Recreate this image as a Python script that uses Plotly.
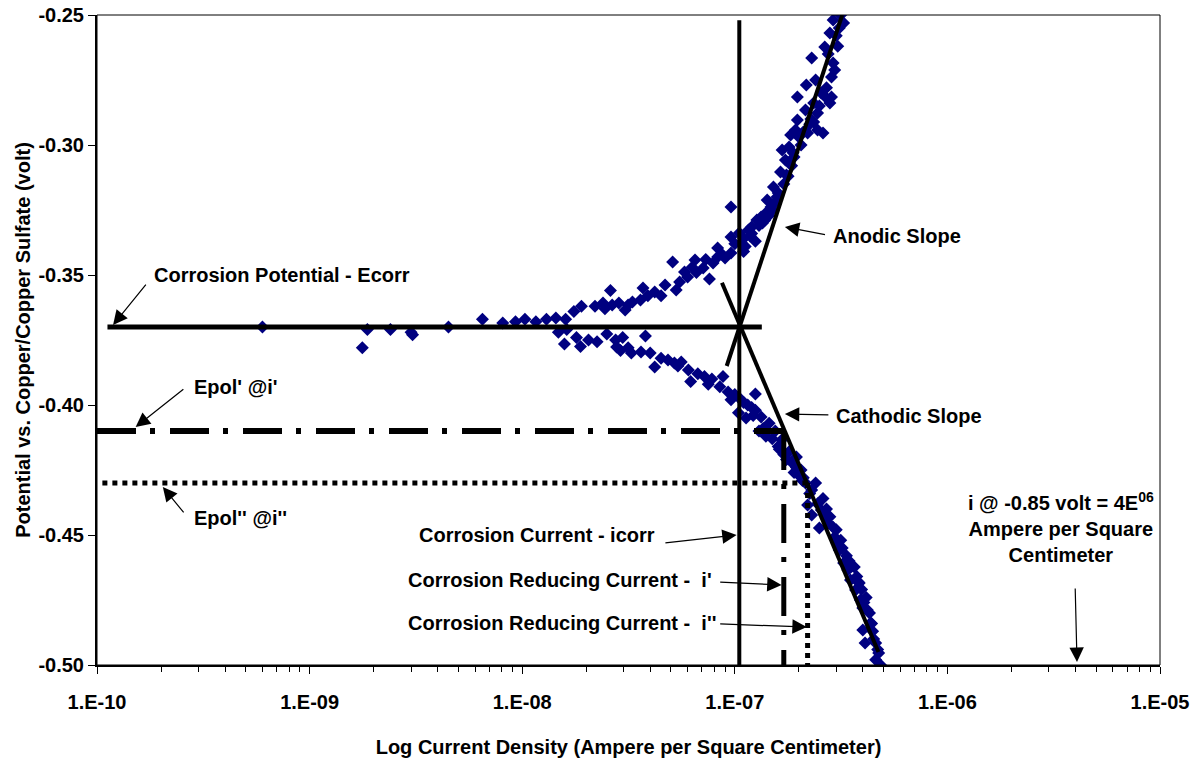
import numpy as np
import plotly.graph_objects as go

# measured polarization data (current density A/cm2, potential V vs CSE)
anodic_i = [6.0e-10, 1.77e-9, 1.87e-9, 2.4e-9, 3.0e-9, 3.05e-9, 4.5e-9, 6.5e-9, 8.1e-9, 9.3e-9,
            1.03e-8, 1.16e-8, 1.3e-8, 1.44e-8, 1.6e-8, 1.75e-8, 1.9e-8, 2.2e-8, 2.4e-8, 2.45e-8,
            2.6e-8, 2.65e-8, 2.85e-8, 3.05e-8, 3.15e-8, 3.3e-8, 3.6e-8, 3.7e-8, 3.9e-8, 4.2e-8,
            4.5e-8, 4.7e-8, 5.1e-8, 5.3e-8, 5.5e-8, 5.8e-8, 6.0e-8, 6.5e-8, 6.6e-8, 7.1e-8,
            7.6e-8, 7.9e-8, 8.3e-8, 9.0e-8, 9.6e-8, 1.1e-7, 8.3e-8, 9.6e-8, 1.05e-7, 1.07e-7,
            1.16e-7, 1.2e-7, 9.6e-8, 1.27e-7, 1.33e-7, 1.4e-7, 1.42e-7, 1.48e-7, 1.52e-7, 1.6e-7,
            1.64e-7, 1.75e-7, 1.73e-7, 1.67e-7, 1.8e-7, 1.9e-7, 1.83e-7, 1.93e-7, 2.0e-7, 1.97e-7,
            2.15e-7, 2.2e-7, 2.35e-7, 2.45e-7, 2.6e-7, 2.45e-7, 2.35e-7, 1.97e-7, 2.67e-7, 2.8e-7,
            2.85e-7, 2.17e-7, 2.4e-7, 2.85e-7, 2.95e-7, 2.9e-7, 2.3e-7, 2.65e-7, 2.8e-7, 2.9e-7,
            3.25e-7, 3.15e-7, 1.0e-7, 1.1e-7, 1.2e-7, 1.25e-7, 1.3e-7, 1.35e-7, 1.45e-7, 1.55e-7,
            1.7e-7, 1.85e-7, 2.05e-7, 2.25e-7, 2.5e-7, 2.7e-7, 2.75e-7, 3.0e-7,
            1.12e-7, 1.18e-7, 1.38e-7, 1.5e-7, 1.58e-7, 1.78e-7, 1.88e-7, 2.1e-7, 2.28e-7, 2.55e-7,
            3.05e-7, 3.1e-7, 6.3e-8, 7.3e-8, 8.7e-8]
anodic_e = [-0.370, -0.378, -0.371, -0.371, -0.372, -0.373, -0.370, -0.367, -0.3685, -0.368,
            -0.367, -0.368, -0.367, -0.3665, -0.367, -0.364, -0.362, -0.362, -0.3608, -0.363,
            -0.356, -0.3615, -0.3608, -0.3635, -0.3615, -0.3604, -0.3596, -0.355, -0.358, -0.3565,
            -0.358, -0.3538, -0.345, -0.3558, -0.3527, -0.3488, -0.3508, -0.3442, -0.349, -0.3473,
            -0.3515, -0.3454, -0.3431, -0.3435, -0.3415, -0.341, -0.3396, -0.3354, -0.3338, -0.3377,
            -0.3327, -0.3315, -0.3238, -0.3288, -0.3277, -0.3262, -0.3212, -0.3238, -0.3162, -0.3185,
            -0.3104, -0.3115, -0.3058, -0.3019, -0.3008, -0.3046, -0.2962, -0.2942, -0.2969, -0.2904,
            -0.2865, -0.2954, -0.2912, -0.2942, -0.2954, -0.2877, -0.2838, -0.2815, -0.2815, -0.2838,
            -0.2815, -0.2769, -0.275, -0.2738, -0.2712, -0.2685, -0.2665, -0.2623, -0.2569, -0.2519,
            -0.2531, -0.250, -0.338, -0.336, -0.334, -0.337, -0.331, -0.330, -0.327, -0.322,
            -0.315, -0.308, -0.300, -0.292, -0.285, -0.278, -0.265, -0.258,
            -0.339, -0.335, -0.329, -0.325, -0.320, -0.312, -0.303, -0.295, -0.290, -0.280,
            -0.262, -0.255, -0.347, -0.344, -0.342]

cathodic_i = [1.48e-8, 1.62e-8, 1.58e-8, 1.8e-8, 1.88e-8, 2.05e-8, 2.25e-8, 2.5e-8, 2.75e-8, 2.97e-8,
              2.78e-8, 2.9e-8, 3.15e-8, 3.26e-8, 3.62e-8, 3.8e-8, 4.0e-8, 4.2e-8, 4.5e-8, 4.85e-8,
              5.2e-8, 5.6e-8, 6.05e-8, 6.2e-8, 6.7e-8, 7.2e-8, 7.8e-8, 8.8e-8, 8.5e-8, 9.3e-8,
              1.0e-7, 1.07e-7, 1.15e-7, 1.25e-7, 1.25e-7, 1.04e-7, 1.13e-7, 1.33e-7, 1.3e-7, 1.45e-7,
              1.55e-7, 1.66e-7, 1.8e-7, 1.95e-7, 1.95e-7, 2.05e-7, 2.15e-7, 2.3e-7, 2.4e-7, 2.2e-7,
              2.3e-7, 2.55e-7, 2.5e-7, 2.65e-7, 2.75e-7, 2.95e-7, 3.05e-7, 3.1e-7, 3.25e-7, 3.4e-7,
              3.65e-7, 3.5e-7, 3.85e-7, 3.7e-7, 3.9e-7, 4.0e-7, 4.2e-7, 4.35e-7, 4.0e-7, 4.1e-7,
              4.6e-7, 4.75e-7, 4.6e-7, 4.85e-7, 1.2e-7, 1.4e-7, 1.6e-7, 1.7e-7, 1.85e-7, 2.0e-7,
              2.1e-7, 2.6e-7, 2.8e-7, 3.0e-7, 3.2e-7, 3.35e-7, 3.55e-7, 3.75e-7, 3.95e-7, 4.15e-7,
              4.3e-7, 4.45e-7, 4.5e-7, 1.1e-7, 1.22e-7, 1.36e-7, 1.5e-7, 1.62e-7, 1.75e-7, 1.9e-7,
              2.08e-7, 2.25e-7, 2.45e-7, 2.7e-7, 2.9e-7, 3.15e-7, 3.45e-7, 3.8e-7, 4.05e-7, 4.4e-7,
              4.7e-7, 9.6e-8, 7.5e-8, 5.4e-8]
cathodic_e = [-0.372, -0.371, -0.3765, -0.374, -0.3775, -0.375, -0.3757, -0.3727, -0.375, -0.374,
              -0.3777, -0.379, -0.378, -0.380, -0.3796, -0.3735, -0.380, -0.3854, -0.382, -0.3827,
              -0.3838, -0.3835, -0.3865, -0.391, -0.388, -0.389, -0.390, -0.389, -0.393, -0.395,
              -0.396, -0.398, -0.400, -0.3958, -0.402, -0.403, -0.405, -0.4046, -0.410, -0.407,
              -0.410, -0.4135, -0.418, -0.424, -0.420, -0.425, -0.430, -0.4327, -0.430, -0.4385,
              -0.4423, -0.4404, -0.4473, -0.4423, -0.4454, -0.4508, -0.4531, -0.4558, -0.4608, -0.4635,
              -0.4623, -0.4673, -0.4685, -0.4712, -0.475, -0.4781, -0.4788, -0.4838, -0.4865, -0.4915,
              -0.4915, -0.4954, -0.498, -0.500, -0.401, -0.412, -0.416, -0.419, -0.422, -0.427,
              -0.428, -0.436, -0.443, -0.448, -0.455, -0.458, -0.462, -0.466, -0.471, -0.474,
              -0.480, -0.487, -0.490, -0.399, -0.404, -0.409, -0.413, -0.417, -0.421, -0.426,
              -0.429, -0.434, -0.438, -0.440, -0.447, -0.452, -0.460, -0.468, -0.476, -0.484,
              -0.494, -0.398, -0.392, -0.385]

# construction lines (Tafel analysis)
ecorr = -0.370
icorr = 1.05e-7
epol1, i1 = -0.410, 1.70e-7
epol2, i2 = -0.430, 2.20e-7
ecorr_line_i = [1.12e-10, 1.34e-7]
icorr_line_e = [-0.252, -0.500]
anodic_slope_i = [9.16e-8, 3.2e-7]
anodic_slope_e = [-0.385, -0.250]
cathodic_slope_i = [8.7e-8, 4.74e-7]
cathodic_slope_e = [-0.353, -0.495]
epol_start = 1.0e-10
emin = -0.500

x_tickvals = [1e-10, 1e-9, 1e-8, 1e-7, 1e-6, 1e-5]
x_ticktext = ["1.E-10", "1.E-09", "1.E-08", "1.E-07", "1.E-06", "1.E-05"]
y_tickvals = [-0.25, -0.30, -0.35, -0.40, -0.45, -0.50]
y_ticktext = ["-0.25", "-0.30", "-0.35", "-0.40", "-0.45", "-0.50"]

FONT = "Arial, Liberation Sans, sans-serif"
BOLD = dict(family=FONT, size=20, color="black", weight="bold")

fig = go.Figure()

for xs, ys in [(anodic_i, anodic_e), (cathodic_i, cathodic_e)]:
    fig.add_trace(go.Scatter(x=xs, y=ys, mode="markers",
                             marker=dict(symbol="diamond", size=10, color="#000080")))

line_k = dict(color="black", width=4)
dashdot = "39px,14px,5px,15px"
fig.add_trace(go.Scatter(x=ecorr_line_i, y=[ecorr, ecorr], mode="lines", line=dict(color="black", width=5)))
fig.add_trace(go.Scatter(x=[icorr, icorr], y=icorr_line_e, mode="lines", line=line_k))
fig.add_trace(go.Scatter(x=anodic_slope_i, y=anodic_slope_e, mode="lines", line=line_k))
fig.add_trace(go.Scatter(x=cathodic_slope_i, y=cathodic_slope_e, mode="lines", line=line_k))
fig.add_trace(go.Scatter(x=[epol_start, i1], y=[epol1, epol1], mode="lines",
                         line=dict(color="black", width=6, dash=dashdot)))
fig.add_trace(go.Scatter(x=[i1, i1], y=[epol1, emin], mode="lines",
                         line=dict(color="black", width=5, dash=dashdot)))
fig.add_trace(go.Scatter(x=[epol_start * 1.06, i2], y=[epol2, epol2], mode="lines",
                         line=dict(color="black", width=5, dash="5px,5px")))
fig.add_trace(go.Scatter(x=[i2, i2], y=[epol2, emin], mode="lines",
                         line=dict(color="black", width=5, dash="5px,5px")))

L = np.log10

# text labels: (text, x, y, xanchor)
labels = [
    ("Corrosion Potential - Ecorr", 1.81e-10, -0.350, "left"),
    ("Epol' @i'", 2.79e-10, -0.3931, "left"),
    ("Epol'' @i''", 2.79e-10, -0.4435, "left"),
    ("Anodic Slope", 2.82e-7, -0.335, "left"),
    ("Cathodic Slope", 2.92e-7, -0.4042, "left"),
    ("Corrosion Current - icorr", 4.3e-8, -0.450, "right"),
    ("Corrosion Reducing Current -  i'", 2.85e-9, -0.4673, "left"),
    ("Corrosion Reducing Current -  i''", 2.85e-9, -0.4838, "left"),
    ("i @ -0.85 volt = 4E<sup>06</sup><br>Ampere per Square<br>Centimeter", 3.43e-6, -0.4473, "center"),
]
for text, x, y, xa in labels:
    fig.add_annotation(x=L(x), y=y, text=text, showarrow=False, xanchor=xa, yanchor="middle",
                       font=BOLD)

# arrows: (tail x, tail y, tip x, tip y)
arrows = [
    (1.72e-10, -0.3531, 1.19e-10, -0.3692),
    (2.59e-10, -0.3935, 1.52e-10, -0.4085),
    (2.59e-10, -0.4419, 2.04e-10, -0.4315),
    (2.70e-7, -0.3346, 1.72e-7, -0.3315),
    (2.80e-7, -0.4038, 1.72e-7, -0.4035),
    (4.64e-8, -0.4531, 1.02e-7, -0.4500),
    (8.4e-8, -0.4681, 1.66e-7, -0.4692),
    (8.4e-8, -0.4842, 2.18e-7, -0.4854),
    (3.99e-6, -0.4700, 4.07e-6, -0.4988),
]
for ax_, ay_, x, y in arrows:
    fig.add_annotation(x=L(x), y=y, ax=L(ax_), ay=ay_, axref="x", ayref="y", text="",
                       showarrow=True, arrowhead=2, arrowsize=2.4, arrowwidth=1.2,
                       arrowcolor="black", standoff=0, startstandoff=0)

fig.update_xaxes(type="log", range=[-10, -5], tickvals=x_tickvals, ticktext=x_ticktext,
                 ticks="outside", ticklen=7, tickwidth=1, tickcolor="black", automargin=False,
                 showline=True, linewidth=2, linecolor="black", showgrid=False, zeroline=False,
                 tickfont=BOLD, ticklabelstandoff=11, ticklabeloverflow="allow",
                 minor=dict(ticks="outside", ticklen=5, tickcolor="black", dtick="D1", showgrid=False),
                 title=dict(text="Log Current Density (Ampere per Square Centimeter)", font=BOLD,
                            standoff=28))
fig.update_yaxes(range=[-0.50, -0.25], tickvals=y_tickvals, ticktext=y_ticktext,
                 ticks="outside", ticklen=7, tickwidth=1, tickcolor="black", automargin=False,
                 showline=True, linewidth=2, linecolor="black", showgrid=False, zeroline=False,
                 tickfont=BOLD, ticklabeloverflow="allow",
                 title=dict(text="Potential vs. Copper/Copper Sulfate (volt)", font=BOLD, standoff=2))

fig.add_shape(type="rect", xref="paper", yref="paper", x0=0, x1=1, y0=0, y1=1,
              line=dict(color="black", width=1), layer="above")

fig.update_layout(width=1202, height=767, showlegend=False,
                  plot_bgcolor="white", paper_bgcolor="white",
                  margin=dict(l=97, r=42, t=15, b=102),
                  font=dict(family=FONT, color="black"))

# drop the default page margin so the figure sits at the window's top-left corner
fig.write_html("out.html", config={"displayModeBar": False},
               post_script="document.body.style.margin = '0px';")
